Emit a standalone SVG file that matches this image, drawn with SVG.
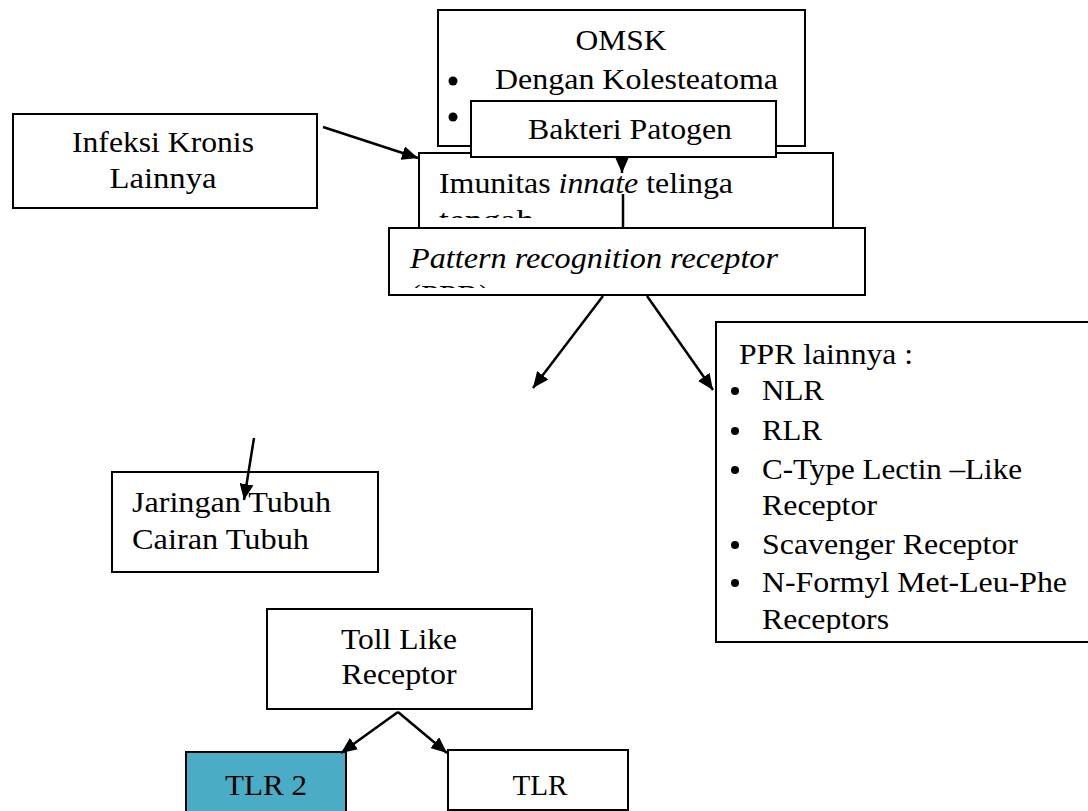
<svg xmlns="http://www.w3.org/2000/svg" width="1088" height="811" viewBox="0 0 1088 811">
<style>
text{font-family:"Liberation Serif","Times New Roman",serif;font-size:28.5px;fill:#000}
.box{fill:#fff;stroke:#000;stroke-width:2}
.ln{stroke:#000;stroke-width:2.5;fill:none}
.it{font-style:italic}
</style>
<defs>
<marker id="ah" viewBox="0 0 16 14" refX="16" refY="7" markerWidth="16" markerHeight="14" markerUnits="userSpaceOnUse" orient="auto">
<path d="M0,0 L16,7 L0,14 z" fill="#000"/>
</marker>
<clipPath id="c1"><rect x="419" y="150" width="414" height="68"/></clipPath>
<clipPath id="c2"><rect x="389" y="228" width="476" height="60"/></clipPath>
<clipPath id="c3"><rect x="716" y="322" width="372" height="311"/></clipPath>
</defs>
<rect width="1088" height="811" fill="#fff"/>

<g id="omsk">
<rect class="box" x="438" y="10" width="367" height="136"/>
<text x="621" y="50" text-anchor="middle" textLength="91" lengthAdjust="spacingAndGlyphs">OMSK</text>
<circle cx="453" cy="81" r="4.5"/>
<text x="495" y="89" textLength="283" lengthAdjust="spacingAndGlyphs">Dengan Kolesteatoma</text>
<circle cx="453" cy="117" r="4.5"/>
</g>

<g id="imunitas">
<rect class="box" x="419" y="153" width="414" height="80"/>
<g clip-path="url(#c1)">
<text x="439" y="193" textLength="294" lengthAdjust="spacingAndGlyphs">Imunitas <tspan class="it">innate</tspan> telinga</text>
<text x="439" y="230" textLength="95" lengthAdjust="spacingAndGlyphs">tengah</text>
</g>
</g>

<g id="bakteri">
<rect class="box" x="471" y="101" width="305" height="56"/>
<text x="528" y="139" textLength="204" lengthAdjust="spacingAndGlyphs">Bakteri Patogen</text>
</g>

<g id="prr">
<rect class="box" x="389" y="228" width="476" height="67"/>
<g clip-path="url(#c2)">
<text class="it" x="410" y="268" textLength="368" lengthAdjust="spacingAndGlyphs">Pattern recognition receptor</text>
<text x="410" y="305" textLength="80" lengthAdjust="spacingAndGlyphs">(PPR)</text>
</g>
</g>

<g id="infeksi">
<rect class="box" x="13" y="114" width="304" height="94"/>
<text x="163" y="152" text-anchor="middle" textLength="182" lengthAdjust="spacingAndGlyphs">Infeksi Kronis</text>
<text x="163" y="188" text-anchor="middle" textLength="107" lengthAdjust="spacingAndGlyphs">Lainnya</text>
</g>

<g id="ppr-lainnya">
<rect class="box" x="716" y="322" width="380" height="320"/>
<g clip-path="url(#c3)">
<text x="739" y="364" textLength="174" lengthAdjust="spacingAndGlyphs">PPR lainnya :</text>
<circle cx="735" cy="391" r="4"/>
<text x="762" y="400" textLength="62" lengthAdjust="spacingAndGlyphs">NLR</text>
<circle cx="735" cy="431" r="4"/>
<text x="762" y="440" textLength="60" lengthAdjust="spacingAndGlyphs">RLR</text>
<circle cx="735" cy="470" r="4"/>
<text x="762" y="479" textLength="260" lengthAdjust="spacingAndGlyphs">C-Type Lectin –Like</text>
<text x="762" y="515" textLength="115" lengthAdjust="spacingAndGlyphs">Receptor</text>
<circle cx="735" cy="545" r="4"/>
<text x="762" y="554" textLength="256" lengthAdjust="spacingAndGlyphs">Scavenger Receptor</text>
<circle cx="735" cy="583" r="4"/>
<text x="762" y="592" textLength="305" lengthAdjust="spacingAndGlyphs">N-Formyl Met-Leu-Phe</text>
<text x="762" y="629" textLength="127" lengthAdjust="spacingAndGlyphs">Receptors</text>
</g>
</g>

<g id="jaringan">
<rect class="box" x="112" y="472" width="266" height="100"/>
<text x="132" y="512" textLength="199" lengthAdjust="spacingAndGlyphs">Jaringan Tubuh</text>
<text x="132" y="549" textLength="177" lengthAdjust="spacingAndGlyphs">Cairan Tubuh</text>
</g>

<g id="tlr-main">
<rect class="box" x="267" y="609" width="265" height="100"/>
<text x="399" y="649" text-anchor="middle" textLength="116" lengthAdjust="spacingAndGlyphs">Toll Like</text>
<text x="399" y="684" text-anchor="middle" textLength="115" lengthAdjust="spacingAndGlyphs">Receptor</text>
</g>

<g id="tlr2">
<rect x="186" y="752" width="160" height="70" fill="#4BACC6" stroke="#000" stroke-width="2"/>
<text x="266" y="795" text-anchor="middle" textLength="82" lengthAdjust="spacingAndGlyphs">TLR 2</text>
</g>

<g id="tlr">
<rect class="box" x="448" y="750" width="180" height="60"/>
<text x="540" y="795" text-anchor="middle" textLength="55" lengthAdjust="spacingAndGlyphs">TLR</text>
</g>

<g id="connectors">
<line class="ln" x1="323" y1="127" x2="418" y2="158" marker-end="url(#ah)"/>
<line class="ln" x1="622" y1="157" x2="622" y2="173" marker-end="url(#ah)"/>
<line class="ln" x1="623" y1="194" x2="623" y2="228"/>
<line class="ln" x1="603" y1="296" x2="533" y2="388" marker-end="url(#ah)"/>
<line class="ln" x1="647" y1="296" x2="713" y2="390" marker-end="url(#ah)"/>
<line class="ln" x1="254" y1="438" x2="244" y2="500" marker-end="url(#ah)"/>
<line class="ln" x1="398" y1="712" x2="341" y2="753" marker-end="url(#ah)"/>
<line class="ln" x1="398" y1="712" x2="447" y2="753" marker-end="url(#ah)"/>
</g>
</svg>
